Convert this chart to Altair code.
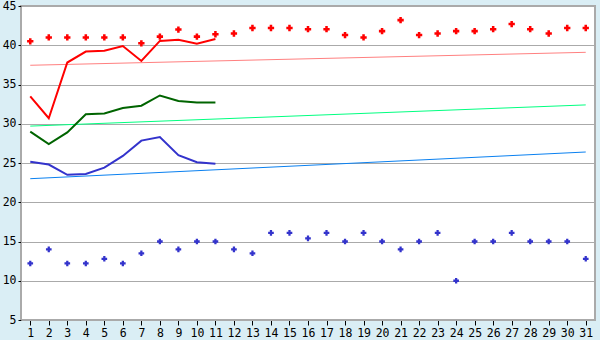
import altair as alt
import pandas as pd

days = list(range(1, 32))

line_days = list(range(1, 12))
red_line = [33.5, 30.7, 37.8, 39.2, 39.3, 39.9, 38.0, 40.55, 40.7, 40.2, 40.8]
green_line = [29.0, 27.4, 28.9, 31.2, 31.3, 32.0, 32.3, 33.6, 32.9, 32.7, 32.7]
blue_line = [25.15, 24.8, 23.5, 23.6, 24.4, 25.9, 27.85, 28.3, 26.0, 25.1, 24.9]

red_pts = [40.5, 41.0, 41.0, 41.0, 41.0, 41.0, 40.25, 41.1, 42.0, 41.1, 41.4,
           41.5, 42.2, 42.2, 42.2, 42.05, 42.05, 41.3, 41.0, 41.8, 43.2,
           41.3, 41.5, 41.8, 41.8, 42.05, 42.7, 42.05, 41.5, 42.2, 42.2]
blue_pts = [12.2, 14.0, 12.2, 12.2, 12.8, 12.2, 13.5, 15.0, 14.0, 15.0, 15.0,
            14.0, 13.5, 16.1, 16.1, 15.4, 16.1, 15.0, 16.1, 15.0, 14.0,
            15.0, 16.1, 10.0, 15.0, 15.0, 16.1, 15.0, 15.0, 15.0, 12.8]

trend_days = [1, 31]
red_trend = [37.45, 39.1]
green_trend = [29.7, 32.4]
blue_trend = [23.0, 26.4]

y_ticks = [5, 10, 15, 20, 25, 30, 35, 40, 45]

FONT = "DejaVu Sans Mono"
GRID = "#AAAAAA"

x_enc = alt.X(
    "day:O",
    scale=alt.Scale(type="point", padding=0.5, domain=days),
    axis=alt.Axis(title=None, labelAngle=0, grid=False, domainColor=GRID,
                  tickColor="#000000", tickSize=5, labelFont=FONT,
                  labelFontSize=11.5, labelColor="#000000", labelPadding=2),
)
y_scale = alt.Scale(domain=[5, 45], nice=False, zero=False)
y_axis = alt.Axis(title=None, values=y_ticks, grid=True, gridColor=GRID,
                  gridOpacity=1, domainColor=GRID, tickColor="#000000",
                  tickSize=3, labelFont=FONT, labelFontSize=11.5,
                  labelColor="#000000", labelPadding=2)


def line_layer(xs, ys, color, width):
    df = pd.DataFrame({"day": xs, "v": ys})
    return alt.Chart(df).mark_line(color=color, strokeWidth=width).encode(
        x=x_enc, y=alt.Y("v:Q", scale=y_scale, axis=y_axis))


def pt_layer(xs, ys, color, size):
    df = pd.DataFrame({"day": xs, "v": ys})
    return alt.Chart(df).mark_point(shape="cross", filled=True, color=color,
                                    size=size, opacity=1).encode(
        x=x_enc, y=alt.Y("v:Q", scale=y_scale, axis=y_axis))


chart = alt.layer(
    line_layer(trend_days, red_trend, "#FF8080", 1),
    line_layer(trend_days, green_trend, "#00FF80", 1),
    line_layer(trend_days, blue_trend, "#0A80F0", 1),
    line_layer(line_days, red_line, "#FF0000", 2),
    line_layer(line_days, green_line, "#006400", 2),
    line_layer(line_days, blue_line, "#3333CC", 2),
    pt_layer(days, red_pts, "#FF0000", 40),
    pt_layer(days, blue_pts, "#3333CC", 32),
).properties(
    width=574, height=314,
    background="#DAEEF5",
    padding={"left": 21, "top": 6, "right": 5, "bottom": 20},
    autosize=alt.AutoSizeParams(type="none"),
).configure_view(fill="#FFFFFF", stroke=GRID, strokeWidth=2)

chart.save("out.html", embed_options={"renderer": "svg", "actions": False})
